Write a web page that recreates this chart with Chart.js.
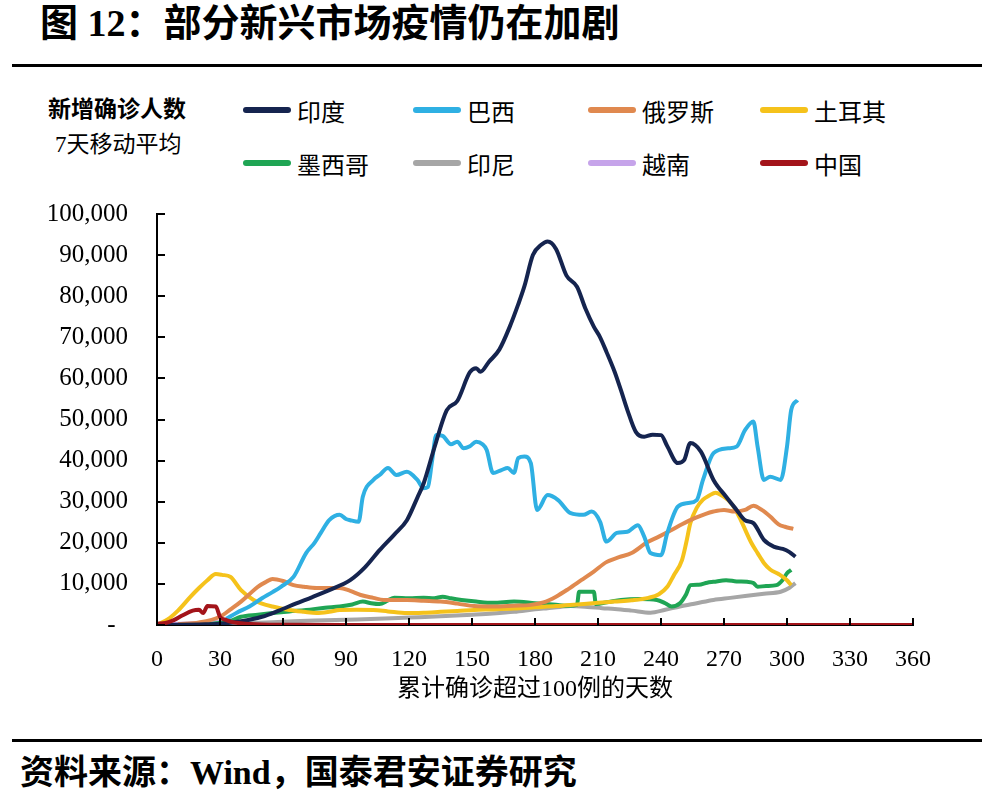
<!DOCTYPE html>
<html>
<head>
<meta charset="utf-8">
<script src="https://cdn.jsdelivr.net/npm/chart.js@4/dist/chart.umd.min.js"></script>
<style>
  html, body { margin: 0; padding: 0; background: #fff; }
  body { width: 982px; height: 808px; position: relative; overflow: hidden;
         font-family: "Liberation Serif", "Noto Sans CJK SC", serif; color: #000; }
  .title { position: absolute; left: 40px; top: 0px; font-size: 38px; font-weight: bold;
           font-family: "Liberation Serif", "Noto Sans CJK SC", serif; line-height: 46px; white-space: nowrap; }
  .rule { position: absolute; left: 12px; width: 970px; height: 3px; background: #000; }
  .ylab { position: absolute; font-size: 23px; line-height: 26px; white-space: nowrap; }
  .leg { position: absolute; height: 30px; display: flex; align-items: center; font-size: 24px; white-space: nowrap; }
  .leg i { display: inline-block; width: 48px; height: 6px; border-radius: 3px; margin-right: 6px; }
  .chartBox { position: absolute; left: 0; top: 170px; width: 982px; height: 550px; }
  .source { position: absolute; left: 20px; top: 752px; font-size: 34px; font-weight: bold; line-height: 42px; white-space: nowrap; }
</style>
</head>
<body>
<div class="title">图 12：部分新兴市场疫情仍在加剧</div>
<div class="rule" style="top:64px"></div>
<div class="ylab" style="left:48px; top:97px; font-weight:bold;">新增确诊人数</div>
<div class="ylab" style="left:55px; top:132px;">7天移动平均</div>
<div id="legend"></div>
<div class="chartBox"><canvas id="chart"></canvas></div>
<div class="rule" style="top:739px"></div>
<div class="source">资料来源：Wind，国泰君安证券研究</div>

<script>
// 数据：累计确诊超过100例后的天数 / 新增确诊 7天移动平均
const seriesNames = ['印度', '巴西', '俄罗斯', '土耳其', '墨西哥', '印尼', '越南', '中国'];
const seriesColors = ['#15244f', '#2fb0e3', '#e0894f', '#f5c21b', '#1fa554', '#a6a6a6', '#c6a4ea', '#a3141a'];

const indiaX = [0,10,20,30,40,50,58,66,74,82,92,99,106,113,119,124,127,132,138,143,149,152,154,158,163,168,172,175,179,183,186,190,195,200,204,208,211,214,218,221,224,228,232,236,240,243,248,251,254,259,265,271,276,280,284,289,294,298,301,304];
const indiaY = [0,50,150,300,900,2000,3500,5200,6800,8500,10900,14000,18200,22000,25500,31000,34500,43000,52300,54500,61500,62500,61600,64000,67000,72600,78000,82500,90000,92500,93300,91500,85000,82300,77000,72600,70000,66500,61500,57000,52300,47000,45800,46300,46200,43500,39400,40100,44300,42200,35300,31200,28000,25500,24800,20700,19000,18500,17800,16600];

const brazilX = [33,38,44,50,55,59,65,71,75,78,82,87,90,92,96,98,103,106,110,114,119,124,127,129,131,133,136,140,143,146,149,152,155,157,160,164,167,170,172,175,178,181,186,191,197,203,207,211,214,219,224,229,232,235,240,243,248,253,257,260,265,272,276,280,284,286,289,292,297,300,302,305];
const brazilY = [1500,3000,4500,6500,8000,9300,11700,17500,20000,22400,25500,26800,25800,25500,25100,31200,35300,36500,38200,36500,37300,35300,33300,33600,40000,46200,46000,44000,44600,43000,43500,44600,44000,42600,37000,37700,38200,37000,40600,41000,39400,28000,31600,30400,27200,26800,27600,25100,20300,22400,22700,24300,21500,17500,17000,22400,28800,29700,30400,35300,41800,43000,43400,47400,49500,43400,35300,36100,35300,43400,52300,54700];

const russiaX = [10,20,30,35,40,44,48,52,55,60,65,70,76,82,87,92,97,103,108,114,119,127,135,143,151,160,170,178,184,190,196,202,208,214,220,226,233,239,245,250,256,261,265,270,275,280,284,288,292,296,299,303];
const russiaY = [200,600,2000,3800,5700,7500,9300,10500,11200,10700,9700,9300,9000,9000,9000,8300,7300,6600,6100,6100,6100,5900,5700,5200,4600,4500,4700,4900,5500,6900,8800,10900,13000,15300,16500,17500,20000,21500,23100,24500,26000,27000,27600,28000,27600,28000,29000,28000,26400,24500,23900,23400];

const turkeyX = [0,6,10,16,20,24,28,31,35,40,46,50,55,63,70,76,82,87,95,103,110,119,127,135,143,151,160,170,180,190,200,210,218,226,234,239,243,246,250,252,254,257,260,263,266,269,272,275,278,283,286,289,292,296,300,302];
const turkeyY = [0,1700,3500,6900,9000,10900,12400,12200,11700,8500,6100,5200,4500,3650,3200,2900,3200,3650,3700,3650,3300,2900,3000,3200,3400,3650,3800,4000,4300,4600,5000,5400,5700,6000,6600,7500,9300,12000,15800,20000,24800,28500,30500,31500,32200,31500,30400,28500,25500,20000,17500,15100,13500,12400,10900,9700];

const mexicoX = [25,35,40,48,55,63,71,80,87,93,98,102,106,110,113,120,127,132,136,140,145,152,160,170,180,190,196,200,201,208,209,215,221,230,238,242,245,249,252,254,258,262,265,271,276,281,284,286,290,295,298,300,302];
const mexicoY = [200,1000,2000,2500,2900,3300,3650,4200,4500,5000,5700,5300,5100,6000,6600,6500,6600,6500,6900,6500,6100,5700,5400,5700,5300,4900,4700,4900,8100,8100,5100,5600,6100,6300,6100,5300,4500,5300,7500,9700,9800,10300,10500,10900,10600,10500,10200,9300,9500,9700,11000,12600,13400];

const indonesiaX = [20,30,45,60,75,90,105,120,135,150,160,170,180,186,192,197,205,212,218,226,235,242,249,257,265,273,281,289,297,301,304];
const indonesiaY = [100,300,500,800,1100,1300,1500,1800,2100,2500,2800,3200,3800,4100,4400,4600,4400,4100,3900,3500,3000,3700,4500,5300,6100,6600,7100,7600,8100,9000,10200];

const vietnamX = [0,10,20,30,35,40,60,100,150,200,250,300];
const vietnamY = [0,300,500,700,300,50,0,0,0,0,0,0];

const chinaX = [0,4,8,12,17,20,22,24,28,30,33,36,40,50,60,90,120,150,180,210,240,270,300,330,360];
const chinaY = [300,500,1200,2300,3500,3700,2900,4600,4500,2000,1200,700,400,100,50,30,30,30,30,30,30,30,30,30,30];

const xTicks = [0,30,60,90,120,150,180,210,240,270,300,330,360];
const yTicks = [0,10000,20000,30000,40000,50000,60000,70000,80000,90000,100000];

const allX = [indiaX, brazilX, russiaX, turkeyX, mexicoX, indonesiaX, vietnamX, chinaX];
const allY = [indiaY, brazilY, russiaY, turkeyY, mexicoY, indonesiaY, vietnamY, chinaY];

// 图例 (两行四列)
const legend = document.getElementById('legend');
const legCols = [243, 413, 588, 760];
const legRows = [95, 148];
seriesNames.forEach((name, i) => {
  const d = document.createElement('div');
  d.className = 'leg';
  d.style.left = legCols[i % 4] + 'px';
  d.style.top = legRows[Math.floor(i / 4)] + 'px';
  d.innerHTML = `<i style="background:${seriesColors[i]}"></i>${name}`;
  legend.appendChild(d);
});

// 坐标轴内侧刻度线
const innerTicks = {
  id: 'innerTicks',
  afterDraw(chart) {
    const { ctx, scales: { x, y } } = chart;
    ctx.save();
    ctx.strokeStyle = '#000';
    ctx.lineWidth = 2;
    yTicks.forEach(v => {
      const py = Math.round(y.getPixelForValue(v));
      ctx.beginPath();
      ctx.moveTo(x.left, py);
      ctx.lineTo(x.left + 8, py);
      ctx.stroke();
    });
    xTicks.forEach(v => {
      const px = Math.round(x.getPixelForValue(v));
      ctx.beginPath();
      ctx.moveTo(px, y.bottom);
      ctx.lineTo(px, y.bottom - 7);
      ctx.stroke();
    });
    ctx.restore();
  }
};

const datasets = seriesNames.map((name, i) => ({
  label: name,
  data: allX[i].map((d, k) => ({ x: d, y: allY[i][k] })),
  borderColor: seriesColors[i],
  backgroundColor: seriesColors[i],
  borderWidth: 4,
  pointRadius: 0,
  tension: 0.2,
  cubicInterpolationMode: 'monotone',
  order: name === '中国' ? -1 : i
}));

new Chart(document.getElementById('chart'), {
  type: 'line',
  data: { datasets },
  plugins: [innerTicks],
  options: {
    responsive: true,
    maintainAspectRatio: false,
    animation: false,
    layout: { padding: { left: 0, top: 4, right: 69, bottom: 0 } },
    plugins: { legend: { display: false }, tooltip: { enabled: false } },
    scales: {
      x: {
        type: 'linear',
        min: 0, max: 360,
        afterFit: s => { s.height = 95; },
        afterBuildTicks: s => { s.ticks = xTicks.map(v => ({ value: v })); },
        grid: { drawOnChartArea: false, drawTicks: false },
        border: { display: true, color: '#000', width: 2 },
        ticks: { color: '#000', padding: 20, maxRotation: 0,
                 font: { family: 'Liberation Serif', size: 24 } },
        title: { display: true, text: '累计确诊超过100例的天数', color: '#000',
                 padding: { top: 0, bottom: 16 },
                 font: { family: 'Liberation Serif, Noto Sans CJK SC', size: 24 } }
      },
      y: {
        min: 0, max: 100000,
        afterFit: s => { s.width = 157; },
        afterBuildTicks: s => { s.ticks = yTicks.map(v => ({ value: v })); },
        grid: { drawOnChartArea: false, drawTicks: false },
        border: { display: true, color: '#000', width: 2 },
        ticks: { color: '#000', padding: 29,
                 font: { family: 'Liberation Serif', size: 25 },
                 callback: v => v === 0 ? '-  ' : v.toLocaleString('en-US') }
      }
    }
  }
});
</script>
</body>
</html>
